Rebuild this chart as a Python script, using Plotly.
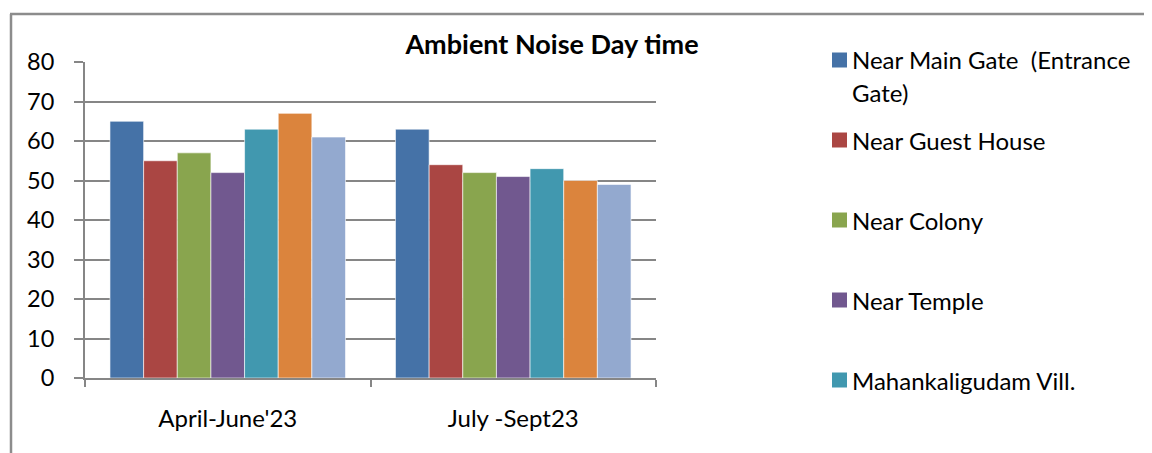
import plotly.graph_objects as go

categories = ["April-June'23", "July -Sept23"]
series_names = [
    "Near Main Gate  (Entrance<br>Gate)",
    "Near Guest House",
    "Near Colony",
    "Near Temple",
    "Mahankaligudam Vill.",
    "Series 6",
    "Series 7",
]
values = [
    [65, 63],
    [55, 54],
    [57, 52],
    [52, 51],
    [63, 53],
    [67, 50],
    [61, 49],
]
colors = ["#4572A7", "#AA4643", "#89A54E", "#71588F", "#4198AF", "#DB843D", "#93A9CF"]
y_ticks = [0, 10, 20, 30, 40, 50, 60, 70, 80]

OFF = 8  # page body margin
W, H = 1152 - OFF, 453 - OFF
# plot area in page pixels
PX0, PX1, PYT, PYB = 85, 656, 62, 378
X0, X1, YT, YB = PX0 - OFF, PX1 - OFF, PYT - OFF, PYB - OFF


def px(x):  # page pixel -> paper
    return (x - PX0) / (PX1 - PX0)


def py(y):
    return (PYB - y) / (PYB - PYT)


FONT = "Lato"
fig = go.Figure()
for name, vals, col in zip(series_names, values, colors):
    fig.add_trace(go.Bar(
        x=categories, y=vals, name=name,
        marker=dict(color=col, line=dict(color="rgba(255,255,255,0.6)", width=1)),
        showlegend=False,
    ))

# manual legend (first five entries visible as in the reference)
legend_y = [60, 140, 220, 300, 380]
for name, col, ly in zip(series_names[:5], colors[:5], legend_y):
    fig.add_shape(type="rect", xref="paper", yref="paper",
                  x0=px(832), x1=px(847), y0=py(ly + 7.5), y1=py(ly - 7.5),
                  fillcolor=col, line=dict(width=0))
    lines = name.split("<br>")
    for k, t in enumerate(lines):
        fig.add_annotation(xref="paper", yref="paper", x=px(850), y=py(ly + k * 33),
                           text=t, showarrow=False, xanchor="left", yanchor="middle",
                           font=dict(family=FONT, size=24, color="#000000"))

# outer frame
fig.add_shape(type="line", xref="paper", yref="paper",
              x0=px(11), x1=px(11), y0=py(14), y1=py(470),
              line=dict(color="#8c8c8c", width=2.5))
fig.add_shape(type="line", xref="paper", yref="paper",
              x0=px(10), x1=px(1170), y0=py(14), y1=py(14),
              line=dict(color="#8c8c8c", width=2.5))

fig.update_layout(
    width=W, height=H,
    margin=dict(l=X0, r=W - X1, t=YT, b=H - YB, autoexpand=False),
    paper_bgcolor="white", plot_bgcolor="white",
    barmode="group", bargap=0.175, bargroupgap=0,
    font=dict(family=FONT, size=24, color="#000000"),
    title=dict(text="<b>Ambient Noise Day time</b>", x=px(552), xref="paper",
               xanchor="center", y=1 - (45 - OFF) / H, yref="container", yanchor="middle",
               font=dict(family=FONT, size=27, color="#000000")),
    showlegend=False,
    xaxis=dict(showline=True, linecolor="#868686", linewidth=2,
               ticks="outside", tickson="boundaries", ticklen=7, tickwidth=1.5,
               tickcolor="#868686", showgrid=False, ticklabelstandoff=18,
               tickfont=dict(family=FONT, size=24)),
    yaxis=dict(range=[0, 80], tickvals=y_ticks, showline=True, linecolor="#868686",
               linewidth=2, ticks="outside", ticklen=9, tickwidth=1.5,
               tickcolor="#868686", showgrid=True, gridcolor="#868686",
               gridwidth=1.5, zeroline=False, ticklabelstandoff=15,
               tickfont=dict(family=FONT, size=23.5)),
)

fig.write_html("out.html")
